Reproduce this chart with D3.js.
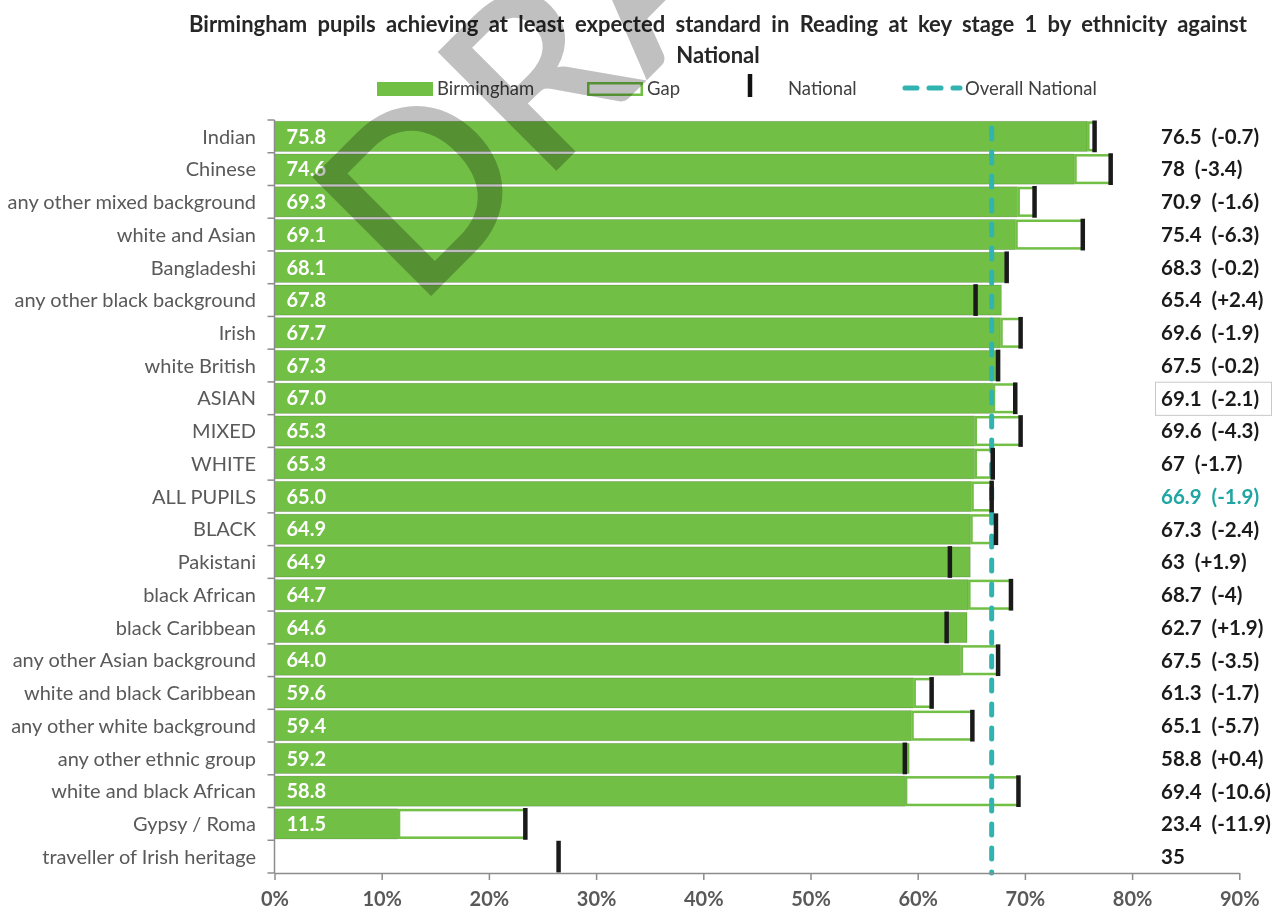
<!DOCTYPE html>
<html>
<head>
<meta charset="utf-8">
<script src="https://cdn.jsdelivr.net/npm/d3@7"></script>
<style>
  html, body { margin: 0; padding: 0; background: #fff; }
  svg { display: block; font-family: Lato, 'Open Sans', sans-serif; }
</style>
</head>
<body>
<div class="container"></div>
<script>
const categories = [
  'Indian', 'Chinese', 'any other mixed background', 'white and Asian', 'Bangladeshi',
  'any other black background', 'Irish', 'white British', 'ASIAN', 'MIXED', 'WHITE',
  'ALL PUPILS', 'BLACK', 'Pakistani', 'black African', 'black Caribbean',
  'any other Asian background', 'white and black Caribbean', 'any other white background',
  'any other ethnic group', 'white and black African', 'Gypsy / Roma', 'traveller of Irish heritage'
];
const birmingham = [75.8, 74.6, 69.3, 69.1, 68.1, 67.8, 67.7, 67.3, 67.0, 65.3, 65.3,
  65.0, 64.9, 64.9, 64.7, 64.6, 64.0, 59.6, 59.4, 59.2, 58.8, 11.5, null];
const national = [76.5, 78, 70.9, 75.4, 68.3, 65.4, 69.6, 67.5, 69.1, 69.6, 67,
  66.9, 67.3, 63, 68.7, 62.7, 67.5, 61.3, 65.1, 58.8, 69.4, 23.4, 35];
// where the black national marker sits in the picture (traveller row is drawn at ~26.5)
const nationalMark = [76.5, 78, 70.9, 75.4, 68.3, 65.4, 69.6, 67.5, 69.1, 69.6, 67,
  66.9, 67.3, 63, 68.7, 62.7, 67.5, 61.3, 65.1, 58.8, 69.4, 23.4, 26.5];
const overallNational = 66.9;
const xTicks = [0, 10, 20, 30, 40, 50, 60, 70, 80, 90];

const w = 1284;
const h = 912;
const green = '#71bf44';
const teal = '#2fb4b1';

const rows = categories.map((c, i) => ({
  name: c, bham: birmingham[i], nat: national[i], mark: nationalMark[i]
}));

const svg = d3.select('.container')
  .append('svg')
  .attr('width', w)
  .attr('height', h)
  .attr('viewBox', [0, 0, w, h]);

const x = d3.scaleLinear().domain([0, 90]).range([274.5, 1239.3]);
const y = d3.scaleBand().domain(categories).range([120, 873])
  .paddingInner(0.08).paddingOuter(0.04);
const gapHalf = (y.step() - y.bandwidth()) / 2;

// title
const title = svg.append('text')
  .attr('text-anchor', 'middle')
  .style('font-size', '22px')
  .style('font-weight', 'bold')
  .style('word-spacing', '5px')
  .attr('fill', '#262626');
title.append('tspan').attr('x', 718).attr('y', 32)
  .text('Birmingham pupils achieving at least expected standard in Reading at key stage 1 by ethnicity against');
title.append('tspan').attr('x', 718).attr('y', 63).text('National');

// legend
const legend = svg.append('g').style('font-size', '18.5px').attr('fill', '#404040');
legend.append('rect').attr('x', 377).attr('y', 82).attr('width', 56).attr('height', 14).attr('fill', green);
legend.append('text').attr('x', 437).attr('y', 95).text('Birmingham');
legend.append('rect').attr('x', 588.25).attr('y', 83.25).attr('width', 53.5).attr('height', 11.5)
  .attr('fill', '#fff').attr('stroke', green).attr('stroke-width', 2.5);
legend.append('text').attr('x', 647).attr('y', 95).text('Gap');
legend.append('line').attr('x1', 750).attr('x2', 750).attr('y1', 74).attr('y2', 97)
  .attr('stroke', '#111').attr('stroke-width', 4.5);
legend.append('text').attr('x', 788).attr('y', 95).text('National');
legend.append('line').attr('x1', 905).attr('x2', 960).attr('y1', 88).attr('y2', 88)
  .attr('stroke', teal).attr('stroke-width', 5).attr('stroke-linecap', 'round')
  .attr('stroke-dasharray', '12,12');
legend.append('text').attr('x', 965).attr('y', 95).text('Overall National');

// bars
const plot = svg.append('g');
const withB = rows.filter(d => d.bham != null);

plot.selectAll('rect.bham')
  .data(withB)
  .join('rect')
  .attr('class', 'bham')
  .attr('x', x(0))
  .attr('y', d => y(d.name))
  .attr('width', d => x(d.bham) - x(0))
  .attr('height', y.bandwidth())
  .attr('fill', green)
  .attr('stroke', 'rgba(0,0,0,0.18)')
  .attr('stroke-width', 0.8);

plot.selectAll('rect.gap')
  .data(withB.filter(d => d.nat > d.bham))
  .join('rect')
  .attr('class', 'gap')
  .attr('x', d => x(d.bham) + 1.25)
  .attr('y', d => y(d.name) + 1.25)
  .attr('width', d => x(d.nat) - x(d.bham) - 1.25)
  .attr('height', y.bandwidth() - 2.5)
  .attr('fill', '#fff')
  .attr('stroke', green)
  .attr('stroke-width', 2.5);

// overall national dashed line
plot.append('line')
  .attr('x1', x(overallNational)).attr('x2', x(overallNational))
  .attr('y1', y.range()[0] + 8).attr('y2', y.range()[1])
  .attr('stroke', teal).attr('stroke-width', 5)
  .attr('stroke-linecap', 'round')
  .attr('stroke-dasharray', '11,13');

// national markers
plot.selectAll('line.nat')
  .data(rows)
  .join('line')
  .attr('class', 'nat')
  .attr('x1', d => x(d.mark)).attr('x2', d => x(d.mark))
  .attr('y1', d => y(d.name) - gapHalf + 0.5)
  .attr('y2', d => y(d.name) + y.bandwidth() + gapHalf - 0.5)
  .attr('stroke', '#1a1a1a')
  .attr('stroke-width', 4.5);

// values inside bars
plot.selectAll('text.val')
  .data(withB)
  .join('text')
  .attr('class', 'val')
  .attr('x', x(0) + 12)
  .attr('y', d => y(d.name) + y.bandwidth() / 2)
  .attr('dy', '0.36em')
  .attr('fill', '#fff')
  .style('font-size', '20px')
  .style('font-weight', 'bold')
  .text(d => d3.format('.1f')(d.bham));

// right labels
const fmtDiff = d => {
  const v = Math.round(d * 10) / 10;
  return '(' + (v > 0 ? '+' : '-') + Math.abs(v) + ')';
};
const right = plot.selectAll('text.nat')
  .data(rows)
  .join('text')
  .attr('class', 'nat')
  .attr('x', 1161)
  .attr('y', d => y(d.name) + y.bandwidth() / 2)
  .attr('dy', '0.36em')
  .attr('fill', d => d.name === 'ALL PUPILS' ? '#1fa5a2' : '#1a1a1a')
  .style('font-size', '20.5px')
  .style('font-weight', 'bold');
right.append('tspan').text(d => d.nat);
right.filter(d => d.bham != null).append('tspan')
  .attr('dx', 10)
  .text(d => fmtDiff(d.bham - d.nat));

// boxed ASIAN label
plot.append('rect')
  .attr('x', 1155.5).attr('y', y('ASIAN') - 1)
  .attr('width', 116).attr('height', y.bandwidth() + 3)
  .attr('fill', 'none').attr('stroke', '#c8c8c8').attr('stroke-width', 1);

// category labels
plot.selectAll('text.cat')
  .data(rows)
  .join('text')
  .attr('class', 'cat')
  .attr('x', 256)
  .attr('y', d => y(d.name) + y.bandwidth() / 2)
  .attr('dy', '0.36em')
  .attr('text-anchor', 'end')
  .attr('fill', '#595959')
  .style('font-size', '20px')
  .text(d => d.name);

// y axis line with ticks between categories
const bounds = categories.map(c => y(c) - gapHalf).concat([y.range()[1]]);
plot.append('line')
  .attr('x1', x(0)).attr('x2', x(0))
  .attr('y1', bounds[0]).attr('y2', y.range()[1])
  .attr('stroke', '#8c8c8c').attr('stroke-width', 1.5);
plot.selectAll('line.ytick')
  .data(bounds)
  .join('line')
  .attr('class', 'ytick')
  .attr('x1', x(0) - 7).attr('x2', x(0))
  .attr('y1', d => d).attr('y2', d => d)
  .attr('stroke', '#8c8c8c').attr('stroke-width', 1.5);

// x axis
const xAxis = svg.append('g')
  .attr('transform', `translate(0, ${y.range()[1]})`)
  .call(d3.axisBottom(x).tickValues(xTicks).tickFormat(d => d + '%').tickSize(7).tickSizeOuter(0).tickPadding(12));
xAxis.select('.domain').attr('stroke', '#8c8c8c').attr('stroke-width', 1.5);
xAxis.selectAll('.tick line').attr('stroke', '#8c8c8c').attr('stroke-width', 1.5);
xAxis.selectAll('.tick text')
  .attr('fill', '#595959')
  .style('font-family', "Lato, 'Open Sans', sans-serif")
  .style('font-size', '20px')
  .style('font-weight', 'bold');

// DRAFT watermark
svg.append('text')
  .attr('transform', 'translate(417, 310) rotate(-45)')
  .attr('fill', '#c0c0c0')
  .style('mix-blend-mode', 'multiply')
  .style('font-size', '233px')
  .style('font-weight', 600)
  .text('DRAFT');
</script>
</body>
</html>
